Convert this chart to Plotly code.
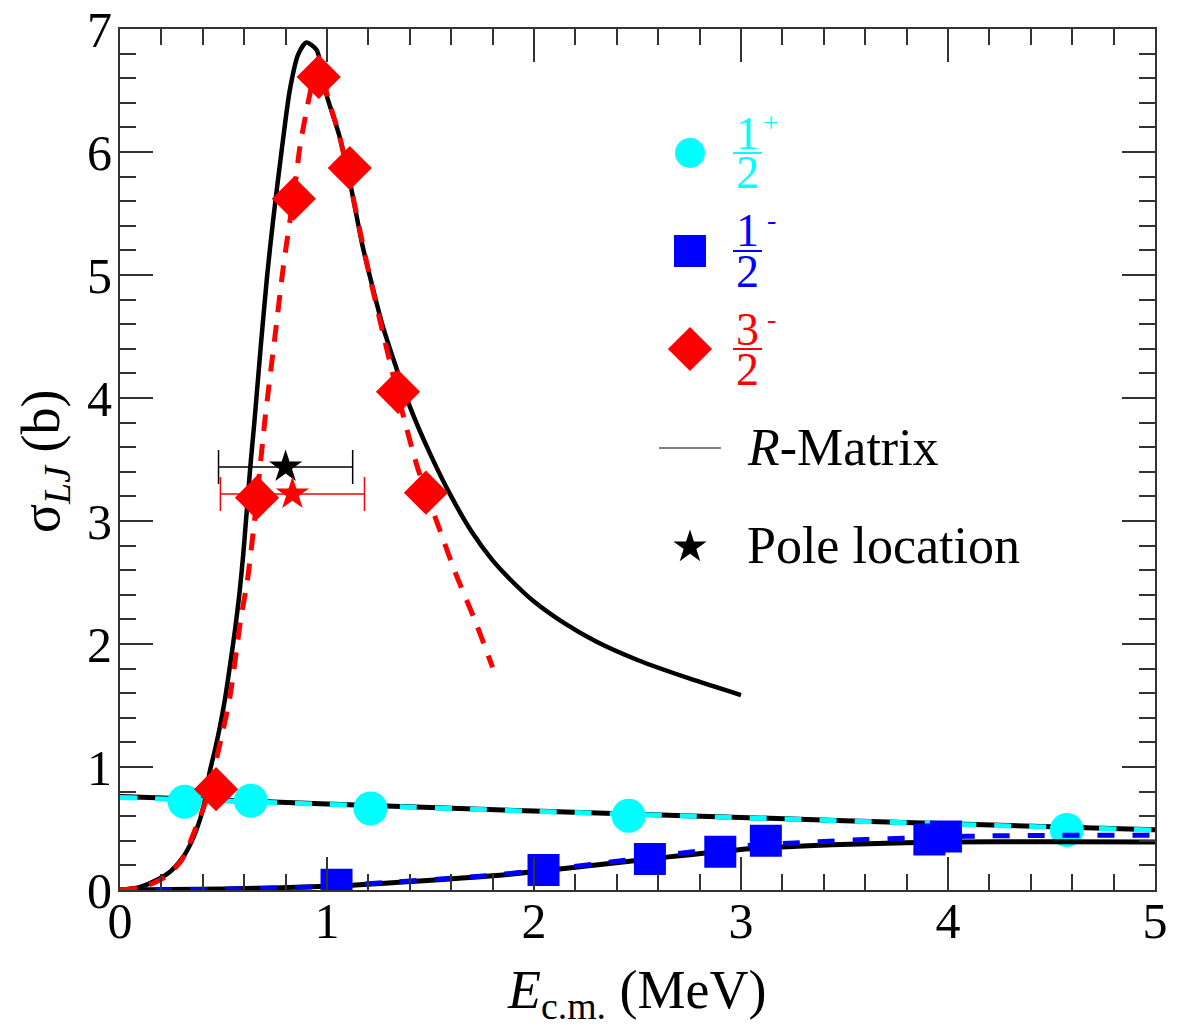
import plotly.graph_objects as go

# ---------------- data ----------------
# 3/2- : R-matrix curve (black solid)
rm32_x = [0.0, 0.09, 0.161, 0.242, 0.306, 0.346, 0.386, 0.411, 0.432, 0.459, 0.483, 0.507,
          0.531, 0.556, 0.577, 0.596, 0.609, 0.63, 0.65, 0.68, 0.71, 0.74, 0.78, 0.82, 0.86,
          0.90, 0.95, 0.995, 1.06, 1.115, 1.17, 1.21, 1.27, 1.34, 1.405, 1.5, 1.6, 1.7,
          1.8, 1.9, 2.0, 2.15, 2.3, 2.5, 2.75, 3.0]
rm32_y = [0.0, 0.02, 0.068, 0.149, 0.271, 0.393, 0.57, 0.732, 0.95, 1.14, 1.33, 1.55,
          1.82, 2.12, 2.41, 2.74, 3.01, 3.45, 3.82, 4.42, 4.98, 5.45, 6.0, 6.5, 6.79,
          6.89, 6.83, 6.48, 6.13, 5.72, 5.25, 4.97, 4.58, 4.22, 3.91, 3.54, 3.20, 2.91,
          2.68, 2.50, 2.345, 2.165, 2.02, 1.87, 1.72, 1.585]

# 3/2- : fit through the points (red dashed)
fit32_x = [0.0, 0.1, 0.213, 0.298, 0.378, 0.43, 0.465, 0.498, 0.531, 0.559, 0.583, 0.615,
           0.647, 0.662, 0.70, 0.75, 0.79, 0.84, 0.87, 0.905, 0.94, 0.96, 0.98, 1.0, 1.06,
           1.115, 1.17, 1.21, 1.27, 1.31, 1.36, 1.44, 1.54, 1.62, 1.72, 1.80]
fit32_y = [0.0, 0.02, 0.10, 0.244, 0.556, 0.80, 1.06, 1.30, 1.57, 1.90, 2.20, 2.51,
           2.96, 3.19, 3.82, 4.52, 5.08, 5.66, 6.05, 6.37, 6.64, 6.72, 6.64, 6.47, 6.13,
           5.72, 5.27, 4.96, 4.53, 4.25, 3.91, 3.42, 2.95, 2.58, 2.17, 1.81]

# 3/2- : data points (red diamonds)
pts32_x = [0.464, 0.662, 0.84, 0.96, 1.11, 1.343, 1.478]
pts32_y = [0.82, 3.19, 5.62, 6.61, 5.87, 4.05, 3.23]

# 1/2+ : R-matrix (black) and fit (cyan dashed)
rm12p_x = [0.0, 1.0, 2.0, 3.0, 4.0, 5.0]
rm12p_y = [0.76, 0.70, 0.642, 0.59, 0.538, 0.49]
fit12p_x = [0.0, 1.0, 2.0, 3.0, 4.0, 5.0]
fit12p_y = [0.752, 0.696, 0.64, 0.588, 0.536, 0.487]
pts12p_x = [0.312, 0.632, 1.21, 2.457, 4.574]
pts12p_y = [0.718, 0.725, 0.663, 0.604, 0.488]

# 1/2- : R-matrix (black) and fit (blue dashed)
rm12m_x = [0.0, 0.5, 1.0, 1.28, 1.8, 2.31, 2.6, 3.0, 3.3, 3.57, 4.0, 4.5, 5.0]
rm12m_y = [0.0, 0.008, 0.03, 0.055, 0.115, 0.205, 0.26, 0.33, 0.357, 0.375, 0.39, 0.393, 0.39]
fit12m_x = [0.0, 0.5, 1.0, 1.28, 1.8, 2.31, 2.69, 3.03, 3.35, 3.6, 4.0, 4.19, 4.5, 5.0]
fit12m_y = [0.0, 0.006, 0.03, 0.06, 0.12, 0.215, 0.295, 0.36, 0.39, 0.41, 0.432, 0.44, 0.444, 0.445]
pts12m_x = [1.046, 2.046, 2.56, 2.90, 3.12, 3.91, 3.99]
pts12m_y = [0.043, 0.163, 0.252, 0.31, 0.40, 0.41, 0.435]

# Pole locations (stars with horizontal uncertainty)
pole_x = [0.80, 0.833]
pole_y = [3.44, 3.22]
pole_err = [0.324, 0.348]
pole_colors = ["black", "red"]

x_ticks = [0, 1, 2, 3, 4, 5]
y_ticks = [0, 1, 2, 3, 4, 5, 6, 7]

FONT = "Liberation Serif, Times New Roman, serif"
CYAN, BLUE, RED = "#00ffff", "#0000ff", "#ff0000"

# ---------------- layout geometry ----------------
OFF = 0                      # body margin removed by post_script
W, H = 1182, 1031
L, R, T, B = 120, 27, 29, 141
PW, PH = W - L - R, H - T - B


def fx(p):
    """page pixel x -> paper fraction"""
    return (p - OFF - L) / PW


def fy(p):
    """page pixel y -> paper fraction"""
    return (H - B - (p - OFF)) / PH


fig = go.Figure()


def line(x, y, color, width, dash=None):
    fig.add_trace(go.Scatter(x=x, y=y, mode="lines", showlegend=False, hoverinfo="skip",
                             line=dict(color=color, width=width, dash=dash,
                                       shape="spline", smoothing=0.7)))


def points(x, y, color, symbol, size):
    fig.add_trace(go.Scatter(x=x, y=y, mode="markers", showlegend=False,
                             marker=dict(color=color, symbol=symbol, size=size,
                                         line=dict(width=0))))


# 1/2+
line(rm12p_x, rm12p_y, "black", 5)
line(fit12p_x, fit12p_y, CYAN, 5, "17px,18px")
points(pts12p_x, pts12p_y, CYAN, "circle", 34)
# 1/2-
line(rm12m_x, rm12m_y, "black", 5)
line(fit12m_x, fit12m_y, BLUE, 5, "17px,18px")
points(pts12m_x, pts12m_y, BLUE, "square", 32)
# 3/2-
line(rm32_x, rm32_y, "black", 4.5)
line(fit32_x, fit32_y, RED, 5, "17px,13px")
points(pts32_x, pts32_y, RED, "diamond", 34)

# pole locations
for i in range(len(pole_x)):
    fig.add_trace(go.Scatter(
        x=[pole_x[i]], y=[pole_y[i]], mode="markers", showlegend=False,
        marker=dict(color=pole_colors[i], symbol="star", size=25, line=dict(width=0)),
        error_x=dict(type="data", array=[pole_err[i]], arrayminus=[pole_err[i]],
                     color=pole_colors[i], thickness=1.5, width=17)))

# ---------------- legend (manual, in paper coords via overlay axes) ----------------
leg_y = [153, 251, 349, 547]
leg_sym = ["circle", "square", "diamond", "star"]
leg_size = [30, 32, 34, 25]
leg_col = [CYAN, BLUE, RED, "black"]
for yy, s, sz, c in zip(leg_y, leg_sym, leg_size, leg_col):
    fig.add_trace(go.Scatter(x=[fx(690)], y=[fy(yy)], xaxis="x2", yaxis="y2",
                             mode="markers", showlegend=False, hoverinfo="skip",
                             marker=dict(symbol=s, size=sz, color=c, line=dict(width=0))))

annotations = []
shapes = []


def ann(text, x, y, size, color="black", xanchor="center", angle=0):
    annotations.append(dict(text=text, x=fx(x), y=fy(y), xref="paper", yref="paper",
                            xanchor=xanchor, yanchor="middle", showarrow=False,
                            textangle=angle,
                            font=dict(family=FONT, size=size, color=color)))


fracs = [("1", "+", 153, CYAN), ("1", "-", 251, BLUE), ("3", "-", 349, RED)]
for num, sup, yb, col in fracs:
    ann(num, 747, yb - 20, 46, col)
    ann(sup, 771, yb - 31, 28, col)
    ann("2", 747, yb + 20, 46, col)
    shapes.append(dict(type="line", xref="paper", yref="paper",
                       x0=fx(733), x1=fx(762), y0=fy(yb), y1=fy(yb),
                       line=dict(color=col, width=2)))

shapes.append(dict(type="line", xref="paper", yref="paper",
                   x0=fx(659), x1=fx(721), y0=fy(448), y1=fy(448),
                   line=dict(color="#555555", width=1.5)))
ann("<i>R</i>-Matrix", 745, 447, 52, xanchor="left")
ann("Pole location", 745, 545, 52, xanchor="left")

# axis titles
ann("<i>E</i><sub>c.m.</sub> (MeV)", 637, 994, 54)
ann("σ<sub><i>LJ</i></sub> (b)", 44, 462, 54, angle=-90)

axis_common = dict(
    showline=True, linecolor="#333333", linewidth=2, mirror="ticks",
    ticks="inside", ticklen=33, tickwidth=1.5, tickcolor="#333333",
    showgrid=False, zeroline=False, automargin=False, ticklabeloverflow="allow",
    tickfont=dict(family=FONT, size=50, color="black"),
    minor=dict(ticks="inside", ticklen=16, tickwidth=1.5, tickcolor="#333333",
               dtick=0.2, showgrid=False),
)

fig.update_layout(
    width=W, height=H,
    margin=dict(l=L, r=R, t=T, b=B),
    paper_bgcolor="white", plot_bgcolor="white",
    showlegend=False,
    xaxis=dict(range=[0, 5], tickvals=x_ticks, ticktext=[str(v) for v in x_ticks],
               ticklabelstandoff=-14, **axis_common),
    yaxis=dict(range=[0, 7], tickvals=y_ticks, ticktext=[str(v) for v in y_ticks],
               ticklabelstandoff=-4, **axis_common),
    xaxis2=dict(range=[0, 1], overlaying="x", visible=False, fixedrange=True),
    yaxis2=dict(range=[0, 1], overlaying="y", visible=False, fixedrange=True),
    annotations=annotations,
    shapes=shapes,
)

fig.write_html("out.html",
               config={"displayModeBar": False},
               post_script="document.body.style.margin='0';"
                           "document.body.style.overflow='hidden';")
